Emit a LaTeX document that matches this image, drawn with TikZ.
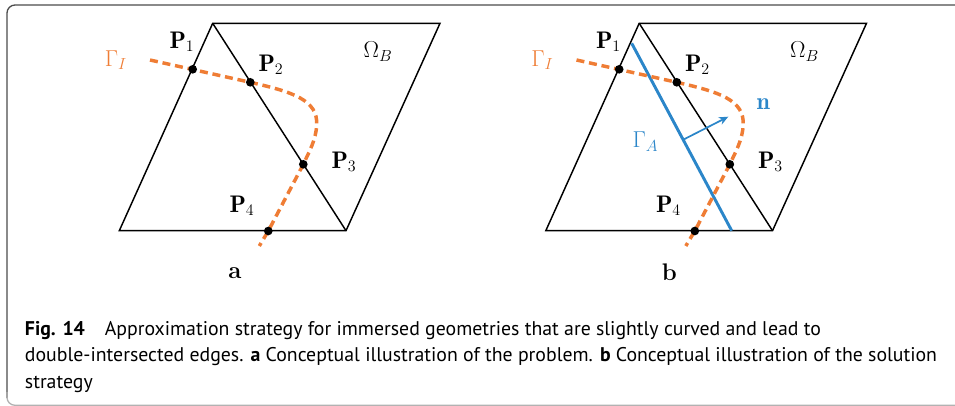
\documentclass[tikz,border=0pt]{standalone}
\usepackage{fontspec}
\newfontfamily\captionfont{PT Sans}
\usetikzlibrary{arrows.meta}

\definecolor{ifaceorange}{HTML}{EF7D35}
\definecolor{approxblue}{HTML}{2B86C9}

\tikzset{
  edge/.style={line width=1.1pt, black},
  iface/.style={ifaceorange, line width=2.6pt, dash pattern=on 6pt off 3.6pt},
  approx/.style={approxblue, line width=2.2pt},
  ipt/.style={circle, fill=black, inner sep=0pt, minimum size=6.5pt},
  lbl/.style={font=\fontsize{18}{21}\selectfont, inner sep=0pt},
  capline/.style={font=\captionfont\fontsize{14.85}{17}\selectfont, anchor=base west, inner sep=0pt}
}

\begin{document}
\begin{tikzpicture}[x=0.75pt, y=-0.75pt]
    \useasboundingbox (0,0) rectangle (955,406);

    % Frame
    \draw[black!70, line width=1pt, rounded corners=6pt] (7,398) -- (7,5) -- (955,5);
    \draw[black!30, line width=1pt, rounded corners=6pt] (7,392) -- (7,405.3) -- (955,405.3);

    % Panel a
    \coordinate (a-top) at (212.7,23.3);
    \coordinate (a-tr) at (440,23.3);
    \coordinate (a-bl) at (119.3,230.7);
    \coordinate (a-br) at (346,230.7);
    \draw[edge] (a-top) -- (a-tr) -- (a-br) -- (a-bl) -- cycle;
    \draw[edge] (a-top) -- (a-br);

    % Gamma_I (panel a)
    \draw[iface] (150,60) -- (250.3,82.3)
        .. controls (293,92) and (318,100) .. (316.7,125)
        .. controls (316,140) and (309,152) .. (303.3,164.3)
        -- (268.3,231) -- (259.3,246);

    \node[ipt] (a-p1) at (192.7,69.3) {};
    \node[ipt] (a-p2) at (250.3,82.3) {};
    \node[ipt] (a-p3) at (303.3,164.3) {};
    \node[ipt] (a-p4) at (268.3,231) {};

    \node[lbl] (a-lp1) at (182,41.7) {$\mathbf{P}_1$};
    \node[lbl] (a-lp2) at (271,65) {$\mathbf{P}_2$};
    \node[lbl] (a-lp3) at (344,161.7) {$\mathbf{P}_3$};
    \node[lbl] (a-lp4) at (242,206) {$\mathbf{P}_4$};
    \node[lbl, text=ifaceorange] (a-gi) at (116,60) {$\Gamma_I$};
    \node[lbl] (a-om) at (378,51.7) {$\Omega_B$};
    \node[lbl] (a-tag) at (235,273) {\textbf{a}};

    % Panel b
    \begin{scope}[shift={(426.5,0)}]
    \coordinate (b-top) at (212.7,23.3);
    \coordinate (b-tr) at (440,23.3);
    \coordinate (b-bl) at (119.3,230.7);
    \coordinate (b-br) at (346,230.7);
    \draw[edge] (b-top) -- (b-tr) -- (b-br) -- (b-bl) -- cycle;
    \draw[edge] (b-top) -- (b-br);

    % Gamma_A and normal
    \coordinate (b-ga1) at (205.2,43.3);
    \coordinate (b-ga2) at (305.2,230.7);
    \draw[approx] (b-ga1) -- (b-ga2);
    \coordinate (b-n0) at (257.5,139.3);
    \coordinate (b-n1) at (301.8,116.7);
    \draw[approxblue, line width=1.3pt, -{Stealth[length=7pt, width=6pt]}] (b-n0) -- (b-n1);

    % Gamma_I (panel b)
    \draw[iface] (150,60) -- (250.3,82.3)
        .. controls (293,92) and (318,100) .. (316.7,125)
        .. controls (316,140) and (309,152) .. (303.3,164.3)
        -- (268.3,231) -- (259.3,246);

    \node[ipt] (b-p1) at (192.7,69.3) {};
    \node[ipt] (b-p2) at (250.3,82.3) {};
    \node[ipt] (b-p3) at (303.3,164.3) {};
    \node[ipt] (b-p4) at (268.3,231) {};

    \node[lbl] (b-lp1) at (182,41.7) {$\mathbf{P}_1$};
    \node[lbl] (b-lp2) at (271,65) {$\mathbf{P}_2$};
    \node[lbl] (b-lp3) at (344,161.7) {$\mathbf{P}_3$};
    \node[lbl] (b-lp4) at (242,206) {$\mathbf{P}_4$};
    \node[lbl, text=ifaceorange] (b-gi) at (116,60) {$\Gamma_I$};
    \node[lbl] (b-om) at (378,51.7) {$\Omega_B$};
    \node[lbl, text=approxblue] (b-ga) at (219,141.7) {$\Gamma_A$};
    \node[lbl, text=approxblue] (b-n) at (336.8,104) {$\mathbf{n}$};
    \node[lbl] (b-tag) at (242.8,272) {\textbf{b}};
    \end{scope}

    % Caption
    \node[capline] (cap1) at (24.7,335) {\textbf{Fig. 14}\hspace{1em}Approximation strategy for immersed geometries that are slightly curved and lead to};
    \node[capline] (cap2) at (24.7,361.5) {double-intersected edges. \textbf{a} Conceptual illustration of the problem. \textbf{b} Conceptual illustration of the solution};
    \node[capline] (cap3) at (24.7,388) {strategy};
\end{tikzpicture}
\end{document}
